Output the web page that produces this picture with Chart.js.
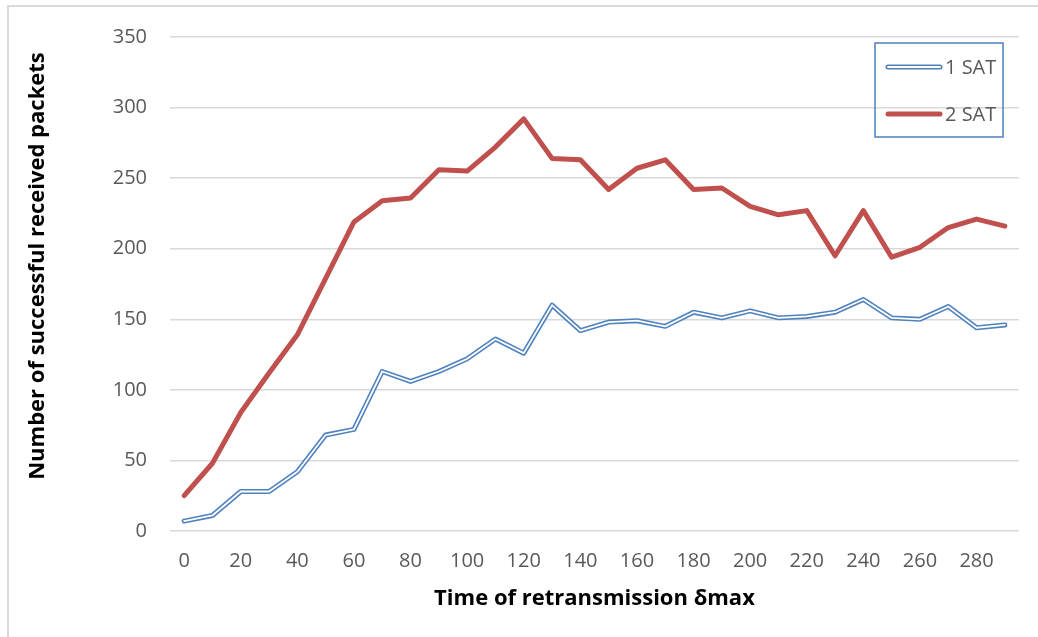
<!DOCTYPE html>
<html>
<head>
<meta charset="utf-8">
<script src="https://cdn.jsdelivr.net/npm/chart.js@4.4.1/dist/chart.umd.min.js"></script>
<style>
    html, body { margin: 0; padding: 0; background: #fff; }
    #wrap { position: relative; width: 1038px; height: 637px; overflow: hidden; }
    #frame { position: absolute; left: 7px; top: 5px; right: -10px; bottom: -10px;
             border-top: 2px solid #d9d9d9; border-left: 2px solid #d9d9d9; }
    canvas { position: absolute; left: 0; top: 0; }
</style>
</head>
<body>
<div id="wrap">
    <div id="frame"></div>
    <canvas id="packetsChart" width="1038" height="637"></canvas>
</div>
<script>
// retransmission time (delta max)
var retransTimes = [0, 10, 20, 30, 40, 50, 60, 70, 80, 90, 100, 110, 120, 130, 140,
    150, 160, 170, 180, 190, 200, 210, 220, 230, 240, 250, 260, 270, 280, 290];

// received packets, one satellite
var oneSat = [7, 11, 28, 28, 42, 68, 72, 113, 106, 113, 122, 136, 126, 160, 142,
    148, 149, 145, 155, 151, 156, 151, 152, 155, 164, 151, 150, 159, 144, 146];

// received packets, two satellites
var twoSat = [25, 48, 84, 112, 139, 179, 219, 234, 236, 256, 255, 272, 292, 264, 263,
    242, 257, 263, 242, 243, 230, 224, 227, 195, 227, 194, 201, 215, 221, 216];

var yTicks = [0, 50, 100, 150, 200, 250, 300, 350];

var yTitle = 'Number of successful received packets';

var BLUE = '#4f81bd',
    RED = '#c0504d',
    TEXT = '#595959',
    GRID = '#d9d9d9';

// legend box drawn by hand so the 1 SAT sample can be a double line
var boxLegend = {
    id: 'boxLegend',
    afterDraw: function (chart) {
        var ctx = chart.ctx;
        var x0 = 875, y0 = 43, w = 128, h = 94;
        ctx.save();
        ctx.strokeStyle = BLUE;
        ctx.lineWidth = 1.5;
        ctx.strokeRect(x0, y0, w, h);

        var rows = chart.data.datasets.filter(function (d) { return d.legendText; });
        rows.forEach(function (ds, i) {
            var y = 67 + i * 47;
            ctx.lineCap = 'round';
            ctx.strokeStyle = ds.borderColor;
            ctx.lineWidth = ds.borderWidth;
            ctx.beginPath();
            ctx.moveTo(888, y);
            ctx.lineTo(940, y);
            ctx.stroke();
            if (ds.innerLine) {
                ctx.strokeStyle = '#fff';
                ctx.lineWidth = 1.8;
                ctx.beginPath();
                ctx.moveTo(888, y);
                ctx.lineTo(940, y);
                ctx.stroke();
            }
            ctx.fillStyle = TEXT;
            ctx.font = '20px "Open Sans"';
            ctx.textBaseline = 'middle';
            ctx.fillText(ds.legendText, 945, y + 1);
        });
        ctx.restore();
    }
};

// vertical axis title, sits a little above the middle of the plot
var sideTitle = {
    id: 'sideTitle',
    afterDraw: function (chart) {
        var ctx = chart.ctx;
        ctx.save();
        ctx.translate(38, 266);
        ctx.rotate(-Math.PI / 2);
        ctx.fillStyle = '#000';
        ctx.font = 'bold 22px "Open Sans"';
        ctx.textAlign = 'center';
        ctx.textBaseline = 'middle';
        ctx.fillText(yTitle, 0, 0);
        ctx.restore();
    }
};

new Chart(document.getElementById('packetsChart'), {
    type: 'line',
    data: {
        labels: retransTimes,
        datasets: [
            {
                // white core of the 1 SAT double line
                data: oneSat,
                borderColor: '#ffffff',
                borderWidth: 1.8,
                pointRadius: 0,
                borderJoinStyle: 'round',
                borderCapStyle: 'round',
                order: 0
            },
            {
                label: '1 SAT',
                legendText: '1 SAT',
                innerLine: true,
                data: oneSat,
                borderColor: BLUE,
                borderWidth: 5,
                pointRadius: 0,
                borderJoinStyle: 'round',
                borderCapStyle: 'round',
                order: 1
            },
            {
                label: '2 SAT',
                legendText: '2 SAT',
                data: twoSat,
                borderColor: RED,
                borderWidth: 5,
                pointRadius: 0,
                borderJoinStyle: 'round',
                borderCapStyle: 'round',
                order: 2
            }
        ]
    },
    options: {
        responsive: false,
        animation: false,
        layout: { padding: { top: 37, right: 19, left: 0, bottom: 0 } },
        plugins: {
            legend: { display: false },
            tooltip: { enabled: false }
        },
        scales: {
            x: {
                offset: true,
                grid: { display: false, drawTicks: false },
                border: { display: false },
                afterFit: function (scale) { scale.height = 106; },
                ticks: {
                    autoSkip: false,
                    maxRotation: 0,
                    padding: 18,
                    color: TEXT,
                    font: { family: 'Open Sans', size: 20 },
                    callback: function (val, idx) {
                        var t = retransTimes[idx];
                        return t % 20 === 0 ? String(t) : '';
                    }
                },
                title: {
                    display: true,
                    text: 'Time of retransmission δmax',
                    color: '#000',
                    font: { family: 'Open Sans', size: 22, weight: 'bold' },
                    padding: { top: 0, bottom: 25 }
                }
            },
            y: {
                min: yTicks[0],
                max: yTicks[yTicks.length - 1],
                afterFit: function (scale) { scale.width = 170; },
                afterBuildTicks: function (scale) {
                    scale.ticks = yTicks.map(function (v) { return { value: v }; });
                },
                grid: { color: GRID, lineWidth: 1.5, drawTicks: false },
                border: { display: false },
                ticks: {
                    padding: 23,
                    color: TEXT,
                    font: { family: 'Open Sans', size: 20 }
                }
            }
        }
    },
    plugins: [boxLegend, sideTitle]
});
</script>
</body>
</html>
